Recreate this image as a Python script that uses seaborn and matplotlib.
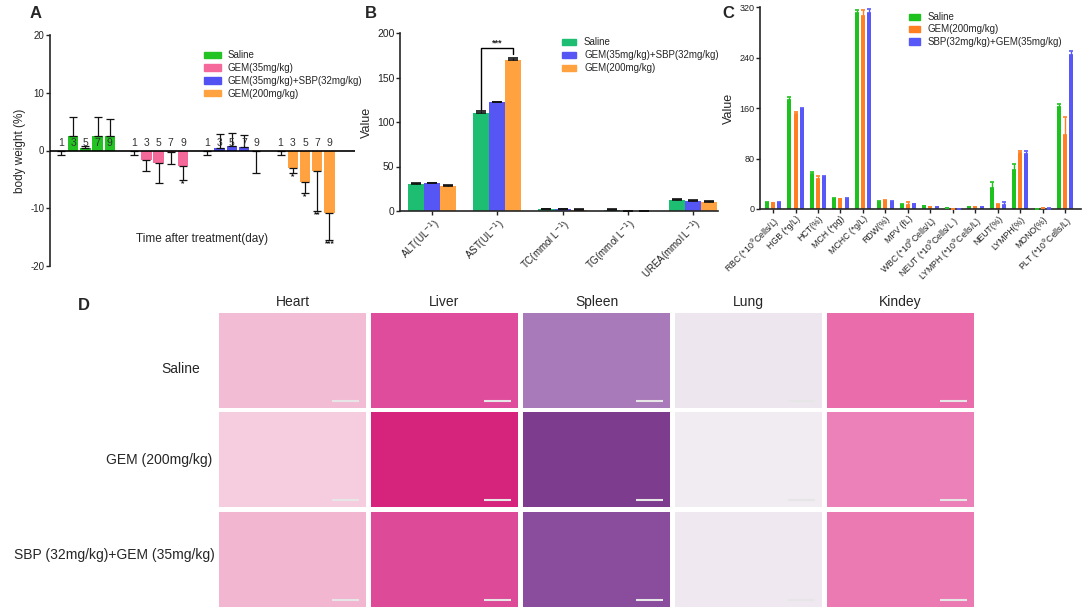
import numpy as np
import pandas as pd
import matplotlib
matplotlib.use("Agg")
import matplotlib.pyplot as plt
from matplotlib.patches import Patch, Rectangle
import seaborn as sns

# ---------------- data ----------------
days = [1, 3, 5, 7, 9]
groups_a = ["Saline", "GEM(35mg/kg)", "GEM(35mg/kg)+SBP(32mg/kg)", "GEM(200mg/kg)"]
a_saline = [0.0, 2.5, 0.4, 2.5, 2.5]
a_saline_err = [0.7, 3.3, 0.3, 3.3, 3.0]
a_gem35 = [0.0, -1.6, -2.1, -0.3, -2.7]
a_gem35_err = [0.7, 1.9, 3.6, 2.0, 2.4]
a_sbp = [0.0, 0.5, 0.8, 0.6, -0.1]
a_sbp_err = [0.7, 2.4, 2.3, 2.1, 3.8]
a_gem200 = [0.0, -3.1, -5.4, -3.6, -10.9]
a_gem200_err = [0.7, 0.8, 1.9, 6.8, 4.6]
a_gem35_sig = ["", "", "", "", "*"]
a_gem200_sig = ["", "*", "*", "**", "***"]

b_params = ["ALT(UL$^{-1}$)", "AST(UL$^{-1}$)", "TC(mmol L$^{-1}$)",
            "TG(mmol L$^{-1}$)", "UREA(mmol L$^{-1}$)"]
groups_b = ["Saline", "GEM(35mg/kg)+SBP(32mg/kg)", "GEM(200mg/kg)"]
b_saline = [30.5, 110, 2.2, 1.0, 12.5]
b_saline_err = [1.5, 2.5, 0.5, 0.8, 1.2]
b_sbp = [31, 122, 2.0, 0.3, 11.5]
b_sbp_err = [1.0, 0.8, 0.3, 0.2, 0.8]
b_gem200 = [28, 170, 1.5, 0.2, 10.5]
b_gem200_err = [1.0, 1.5, 0.3, 0.1, 0.8]

c_params = ["RBC (*10$^9$Cells/L)", "HGB (*g/L)", "HCT(%)", "MCH (*pg)", "MCHC (*g/L)",
            "RDW(%)", "MPV (fL)", "WBC (*10$^9$Cells/L)", "NEUT (*10$^9$Cells/L )",
            "LYMPH (*10$^9$Cells/L)", "NEUT(%)", "LYMPH(%)", "MONO(%)", "PLT (*10$^9$Cells/L)"]
groups_c = ["Saline", "GEM(200mg/kg)", "SBP(32mg/kg)+GEM(35mg/kg)"]
c_saline = [10, 172, 55, 16, 311, 11, 6.3, 4.2, 1.6, 2.6, 33, 62, 0.3, 162]
c_saline_err = [1.5, 6, 3.5, 0.8, 4, 1, 1, 1, 0.3, 0.5, 10, 10, 0.2, 4]
c_gem200 = [9, 150, 48, 15.5, 306, 13, 7, 2.6, 0.3, 2.6, 6, 89, 1.0, 118]
c_gem200_err = [1, 3.5, 3.5, 0.8, 9, 1.5, 4, 0.8, 0.2, 1, 2, 2.5, 0.3, 27]
c_sbp = [9.5, 158, 50, 16, 310, 11.5, 7.4, 2.6, 0.3, 3.0, 6.3, 87, 0.5, 244]
c_sbp_err = [1, 2, 2, 0.8, 7, 0.8, 1, 1.2, 0.2, 0.8, 4.5, 5, 0.3, 6]

organs = ["Heart", "Liver", "Spleen", "Lung", "Kindey"]
treatments_d = ["Saline", "GEM (200mg/kg)", "SBP (32mg/kg)+GEM (35mg/kg)"]
tile_colors = [
    ["#F3BCD5", "#DF4C9B", "#A97AB9", "#EEE6EF", "#EA6CAB"],
    ["#F6CCDF", "#D6237B", "#7D3C8D", "#F1EBF2", "#EC80B8"],
    ["#F2B6D1", "#DC4A98", "#8A4C9C", "#EFE8F1", "#EB7AB3"],
]

# ---------------- style ----------------
sns.set_style("ticks")
plt.rcParams["font.family"] = ["Liberation Sans", "DejaVu Sans"]
plt.rcParams["axes.unicode_minus"] = False
plt.rcParams["axes.linewidth"] = 1.2
plt.rcParams["xtick.major.width"] = 1.0
plt.rcParams["ytick.major.width"] = 1.0
plt.rcParams["xtick.major.size"] = 3
plt.rcParams["ytick.major.size"] = 3

W, H = 1084, 609
fig = plt.figure(figsize=(W / 100, H / 100), dpi=100)


def px_axes(l, t, r, b):
    return fig.add_axes([l / W, 1 - b / H, (r - l) / W, (b - t) / H])


# overlay for panel D and letters
ov = fig.add_axes([0, 0, 1, 1])
ov.set_xlim(0, W)
ov.set_ylim(H, 0)
ov.axis("off")

# ---------------- panel A ----------------
colors_a = {"Saline": "#22C322", "GEM(35mg/kg)": "#F5689A",
            "GEM(35mg/kg)+SBP(32mg/kg)": "#5252F2", "GEM(200mg/kg)": "#FFA23F"}
vals_a = [a_saline, a_gem35, a_sbp, a_gem200]
errs_a = [a_saline_err, a_gem35_err, a_sbp_err, a_gem200_err]
sigs_a = [[""] * 5, a_gem35_sig, [""] * 5, a_gem200_sig]
rows = []
order_a = []
for gi, g in enumerate(groups_a):
    for di, d in enumerate(days):
        slot = f"{g}|{d}"
        order_a.append(slot)
        rows.append({"slot": slot, "value": vals_a[gi][di], "err": errs_a[gi][di],
                     "group": g, "day": d, "sig": sigs_a[gi][di]})
    if gi < len(groups_a) - 1:
        order_a.append(f"gap{gi}")
df_a = pd.DataFrame(rows)

axA = px_axes(50, 35, 355, 266)
sns.barplot(data=df_a, x="slot", y="value", hue="group", order=order_a,
            hue_order=groups_a, palette=colors_a, dodge=False, width=0.85,
            errorbar=None, legend=False, ax=axA, linewidth=0, saturation=1)
for _, r in df_a.iterrows():
    x = order_a.index(r["slot"])
    v, e = r["value"], r["err"]
    if v > 0:
        yerr = [[0], [e]]
        ybot = v + e
    else:
        yerr = [[e], [0]]
        ybot = v - e
    axA.errorbar([x], [v], yerr=yerr, fmt="none", ecolor="#111111",
                 elinewidth=0.9, capsize=3, capthick=0.9, zorder=3)
    axA.text(x, 0.35, str(r["day"]), ha="center", va="bottom", fontsize=7.5,
             color="#333333", zorder=4)
    if r["sig"]:
        axA.text(x, ybot - 0.1, r["sig"], ha="center", va="top", fontsize=6,
                 fontweight="bold", color="#111111")
axA.axhline(0, color="black", lw=1.2, zorder=5)
axA.set_xlim(-0.9, 24.1)
axA.set_ylim(-20, 20)
axA.set_yticks([-20, -10, 0, 10, 20])
axA.set_xticks([])
axA.set_xlabel("")
axA.set_ylabel("body weight (%)", fontsize=8.5, labelpad=3)
axA.tick_params(axis="y", labelsize=7, colors="#222222", pad=1)
for s in ["top", "right", "bottom"]:
    axA.spines[s].set_visible(False)
axA.patch.set_alpha(0)
axA.text(0.50, 0.117, "Time after treatment(day)", transform=axA.transAxes,
         ha="center", va="center", fontsize=8.5)
axA.legend(handles=[Patch(color=colors_a[g]) for g in groups_a], labels=groups_a,
           loc="upper left", bbox_to_anchor=(0.505, 0.935), frameon=False,
           fontsize=7, borderpad=0, borderaxespad=0, labelspacing=0.3,
           handlelength=1.75, handleheight=0.6, handletextpad=0.7)

# ---------------- panel B ----------------
colors_b = {"Saline": "#1DBE72", "GEM(35mg/kg)+SBP(32mg/kg)": "#5656F5",
            "GEM(200mg/kg)": "#FFA23F"}
vals_b = [b_saline, b_sbp, b_gem200]
errs_b = [b_saline_err, b_sbp_err, b_gem200_err]
df_b = pd.DataFrame([{"param": p, "group": g, "value": vals_b[gi][pi], "err": errs_b[gi][pi]}
                     for gi, g in enumerate(groups_b) for pi, p in enumerate(b_params)])
axB = px_axes(400, 33, 718, 211)
sns.barplot(data=df_b, x="param", y="value", hue="group", order=b_params,
            hue_order=groups_b, palette=colors_b, width=0.74, errorbar=None,
            legend=False, ax=axB, linewidth=0, saturation=1)
bars_b = [list(c) for c in axB.containers]
for gi, cont in enumerate(bars_b):
    for pi, bar in enumerate(cont):
        x = bar.get_x() + bar.get_width() / 2
        axB.errorbar([x], [vals_b[gi][pi]], yerr=[[0], [errs_b[gi][pi]]], fmt="none",
                     ecolor="#111111", elinewidth=0.9, capsize=3.5, capthick=1.2, zorder=3)
# significance bracket
xl = bars_b[0][1].get_x() + bars_b[0][1].get_width() / 2
xr = bars_b[2][1].get_x() + bars_b[2][1].get_width() / 2
ytop = 183
axB.plot([xl, xl, xr, xr], [b_saline[1] + 4, ytop, ytop, b_gem200[1] + 6],
         color="black", lw=1.0)
axB.text((xl + xr) / 2, ytop + 0.5, "***", ha="center", va="bottom", fontsize=6.5,
         fontweight="bold")
axB.set_xlim(-0.49, 4.38)
axB.set_ylim(0, 200)
axB.set_yticks([0, 50, 100, 150, 200])
axB.set_xlabel("")
axB.set_ylabel("Value", fontsize=9, labelpad=3)
axB.tick_params(axis="y", labelsize=7.5, colors="#222222", pad=1)
axB.tick_params(axis="x", labelsize=7, colors="#222222", pad=1)
plt.setp(axB.get_xticklabels(), rotation=45, ha="right", rotation_mode="anchor")
sns.despine(ax=axB)
axB.patch.set_alpha(0)
axB.legend(handles=[Patch(color=colors_b[g]) for g in groups_b], labels=groups_b,
           loc="upper left", bbox_to_anchor=(0.51, 0.975), frameon=False,
           fontsize=7, borderpad=0, borderaxespad=0, labelspacing=0.3,
           handlelength=1.45, handleheight=0.6, handletextpad=0.8)

# ---------------- panel C ----------------
colors_c = {"Saline": "#1EC21E", "GEM(200mg/kg)": "#FF7F22",
            "SBP(32mg/kg)+GEM(35mg/kg)": "#5858F8"}
vals_c = [c_saline, c_gem200, c_sbp]
errs_c = [c_saline_err, c_gem200_err, c_sbp_err]
df_c = pd.DataFrame([{"param": p, "group": g, "value": vals_c[gi][pi]}
                     for gi, g in enumerate(groups_c) for pi, p in enumerate(c_params)])
axC = px_axes(760, 7, 1081, 209)
sns.barplot(data=df_c, x="param", y="value", hue="group", order=c_params,
            hue_order=groups_c, palette=colors_c, width=0.825, gap=0.35,
            errorbar=None, legend=False, ax=axC, linewidth=0, saturation=1)
bars_c = [list(c) for c in axC.containers]
for gi, cont in enumerate(bars_c):
    col = colors_c[groups_c[gi]]
    for pi, bar in enumerate(cont):
        x = bar.get_x() + bar.get_width() / 2
        axC.errorbar([x], [vals_c[gi][pi]], yerr=[[0], [errs_c[gi][pi]]], fmt="none",
                     ecolor=col, elinewidth=1.0, capsize=1.6, capthick=1.2, zorder=3)
axC.set_xlim(-0.58, 13.7)
axC.set_ylim(0, 320)
axC.set_yticks([0, 80, 160, 240, 320])
axC.set_xlabel("")
axC.set_ylabel("Value", fontsize=9, labelpad=3)
axC.tick_params(axis="y", labelsize=6.5, colors="#222222", pad=1)
axC.tick_params(axis="x", labelsize=6.3, colors="#222222", pad=1)
plt.setp(axC.get_xticklabels(), rotation=45, ha="right", rotation_mode="anchor")
sns.despine(ax=axC)
axC.patch.set_alpha(0)
axC.legend(handles=[Patch(color=colors_c[g]) for g in groups_c], labels=groups_c,
           loc="upper left", bbox_to_anchor=(0.465, 0.975), frameon=False,
           fontsize=7, borderpad=0, borderaxespad=0, labelspacing=0.25,
           handlelength=1.1, handleheight=0.6, handletextpad=0.8)

# ---------------- panel D (histology placeholders) ----------------
tile_x = [219, 371, 523, 675, 827]
tile_y = [313, 412, 512]
tw, th = 147, 95
for ci, organ in enumerate(organs):
    ov.text(tile_x[ci] + tw / 2, 302, organ, ha="center", va="center", fontsize=10)
    for ri in range(3):
        ov.add_patch(Rectangle((tile_x[ci], tile_y[ri]), tw, th,
                               facecolor=tile_colors[ri][ci], edgecolor="none"))
        ov.plot([tile_x[ci] + 113, tile_x[ci] + 140], [tile_y[ri] + 88] * 2,
                color="#E6E6E6", lw=1.5, solid_capstyle="butt")
label_right = [200, 212, 215]
label_y = [369, 460, 555]
for ri, t in enumerate(treatments_d):
    ov.text(label_right[ri], label_y[ri], t, ha="right", va="center", fontsize=10)

# panel letters
for letter, (x, y) in zip("ABCD", [(36, 14), (371, 14), (728, 14), (84, 306)]):
    ov.text(x, y, letter, ha="center", va="center", fontsize=12, fontweight="bold")

fig.savefig("out.png", dpi=100)
